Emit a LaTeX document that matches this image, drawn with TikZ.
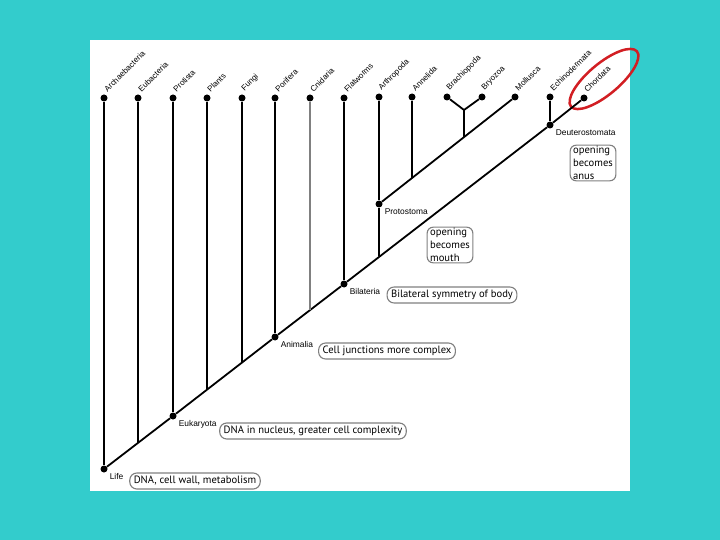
\documentclass[tikz,border=0pt]{standalone}
\usepackage{fontspec}
\setmainfont{Liberation Sans}
\newfontfamily\notefont{PT Sans}
\usetikzlibrary{positioning,shapes}
\definecolor{bgteal}{RGB}{51,204,204}
\definecolor{notegray}{RGB}{128,128,128}
\definecolor{ringred}{RGB}{210,30,35}

\begin{document}
\begin{tikzpicture}[x=1pt,y=-1pt,
            dot/.style={circle,fill,inner sep=0pt,minimum size=7pt},
            taxon/.style={font=\fontsize{8}{9}\selectfont,rotate=45,anchor=south west,inner sep=1pt,xshift=1.5pt},
            clade/.style={font=\fontsize{8.4}{9}\selectfont,inner sep=1pt},
            note/.style={draw=notegray,line width=1.1pt,rounded corners=7pt,font=\notefont\fontsize{10.6}{13}\selectfont,inner xsep=4pt,inner ysep=2pt,minimum height=16pt},
            branch/.style={line width=1.8pt},
            ring/.style={draw=ringred,line width=2.5pt,ellipse,rotate=40,minimum width=86pt,minimum height=31pt}
          ]
          \useasboundingbox (0,0) rectangle (720,540);
          \fill[bgteal] (0,0) rectangle (720,540);
          \fill[white] (90,40) rectangle (630,491);

          %taxa
          \node[dot] (archae) at (104,98) {};
          \node[dot] (eubac) at (138,98) {};
          \node[dot] (protist) at (173,98) {};
          \node[dot] (plants) at (207,98) {};
          \node[dot] (fungi) at (242,98) {};
          \node[dot] (porif) at (275,98) {};
          \node[dot] (cnid) at (310,98) {};
          \node[dot] (flatw) at (344,98) {};
          \node[dot] (arthro) at (379,97) {};
          \node[dot] (annel) at (412,97) {};
          \node[dot] (brach) at (447,97) {};
          \node[dot] (bryoz) at (482,97) {};
          \node[dot] (mollus) at (515,97) {};
          \node[dot] (echino) at (550,97) {};
          \node[dot] (chord) at (584,98) {};

          %taxon labels
          \node[taxon] (tarchae) at (archae.north east) {Archaebacteria};
          \node[taxon] (teubac) at (eubac.north east) {Eubacteria};
          \node[taxon] (tprotist) at (protist.north east) {Protista};
          \node[taxon] (tplants) at (plants.north east) {Plants};
          \node[taxon] (tfungi) at (fungi.north east) {Fungi};
          \node[taxon] (tporif) at (porif.north east) {Porifera};
          \node[taxon] (tcnid) at (cnid.north east) {Cnidaria};
          \node[taxon] (tflatw) at (flatw.north east) {Flatworms};
          \node[taxon] (tarthro) at (arthro.north east) {Arthropoda};
          \node[taxon] (tannel) at (annel.north east) {Annelida};
          \node[taxon] (tbrach) at (brach.north east) {Brachiopoda};
          \node[taxon] (tbryoz) at (bryoz.north east) {Bryozoa};
          \node[taxon] (tmollus) at (mollus.north east) {Mollusca};
          \node[taxon] (techino) at (echino.north east) {Echinodermata};
          \node[taxon] (tchord) at (chord.north east) {Chordata};

          %clades
          \node[dot] (life) at (104,469) {};
          \node[dot] (euk) at (173,416) {};
          \node[dot] (anim) at (275,337) {};
          \node[dot] (bilat) at (344,284) {};
          \node[dot] (proto) at (379,204) {};
          \node[dot] (deut) at (550,125) {};
          \node[clade,below right=1pt and 2pt of life] (tlife) {Life};
          \node[clade,below right=1pt and 2pt of euk] (teuk) {Eukaryota};
          \node[clade,below right=1pt and 2pt of anim] (tanim) {Animalia};
          \node[clade,below right=1pt and 2pt of bilat] (tbilat) {Bilateria};
          \node[clade,below right=1pt and 2pt of proto] (tproto) {Protostoma};
          \node[clade,below right=1pt and 2pt of deut] (tdeut) {Deuterostomata};

          %junctions
          \coordinate (eubJ) at (138,443);
          \coordinate (plJ) at (207,389);
          \coordinate (fuJ) at (242,362);
          \coordinate (cnJ) at (310,310);
          \coordinate (arJ) at (379,256);
          \coordinate (anJ) at (412,178);
          \coordinate (bbJ) at (464,110);
          \coordinate (brJ) at (464,137);

          %notes
          \node[note] (nlife) at (195,481) {DNA, cell wall, metabolism};
          \node[note] (neuk) at (313,431) {DNA in nucleus, greater cell complexity};
          \node[note] (nanim) at (387,351) {Cell junctions more complex};
          \node[note] (nbilat) at (452,295) {Bilateral symmetry of body};
          \node[note,align=left,inner xsep=3pt,inner ysep=1pt,rounded corners=6pt] (nmouth) at (450,245) {opening\\becomes\\mouth};
          \node[note,align=left,inner xsep=3pt,inner ysep=1pt,rounded corners=6pt] (nanus) at (593,163) {opening\\becomes\\anus};

          \node[ring] (circ) at (604,79) {};

          %tree
          \draw[branch] (life) -- (euk) -- (anim) -- (bilat) -- (deut) -- (chord);
          \draw[branch] (proto) -- (mollus);
          \draw[branch] (archae) -- (life);
          \draw[branch] (eubac) -- (eubJ);
          \draw[branch] (protist) -- (euk);
          \draw[branch] (plants) -- (plJ);
          \draw[branch] (fungi) -- (fuJ);
          \draw[branch] (porif) -- (anim);
          \draw[branch,notegray,line width=1.4pt] (cnid) -- (cnJ);
          \draw[branch] (flatw) -- (bilat);
          \draw[branch] (arthro) -- (proto) -- (arJ);
          \draw[branch] (annel) -- (anJ);
          \draw[branch] (brach) -- (bbJ) -- (bryoz);
          \draw[branch] (bbJ) -- (brJ);
          \draw[branch] (echino) -- (deut);

      \end{tikzpicture}
\end{document}
